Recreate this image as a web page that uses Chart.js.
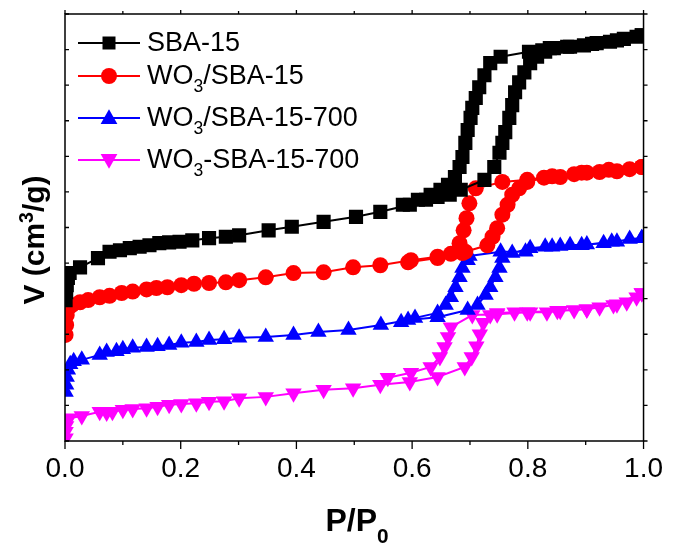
<!DOCTYPE html>
<html>
<head>
<meta charset="utf-8">
<script src="https://cdn.jsdelivr.net/npm/chart.js@4.4.1/dist/chart.umd.min.js"></script>
<style>
  html, body { margin: 0; padding: 0; background: #fff; }
  #wrap { width: 674px; height: 545px; }
</style>
</head>
<body>
<div id="wrap"><canvas id="isoChart" width="674" height="545"></canvas></div>
<script>
// N2 isotherms, P/P0 vs adsorbed volume (stacked, arbitrary offset)

const xTicks = [0.0, 0.2, 0.4, 0.6, 0.8, 1.0];

// SBA-15
const sbaAdsP = [0.001,0.002,0.003,0.005,0.008,0.026,0.057,0.077,0.095,0.112,0.129,0.146,0.163,0.180,0.198,0.220,0.249,0.278,0.301,0.352,0.392,0.447,0.503,0.545,0.596,0.624,0.644,0.665,0.684,0.725,0.742,0.751,0.756,0.761,0.768,0.773,0.778,0.785,0.794,0.804,0.816,0.830,0.845,0.873,0.897,0.919,0.942,0.966,0.988,0.997];
const sbaAdsV = [198,209,219,229,236,244,257,266,268,271,273,275,278,279,280,282,285,287,289,296,301,308,315,322,332,339,343,346,353,367,385,405,419,434,454,472,490,504,518,531,540,547,552,554,556,559,561,565,568,570];
const sbaDesP = [0.997,0.954,0.911,0.868,0.838,0.825,0.802,0.753,0.735,0.725,0.716,0.710,0.704,0.701,0.696,0.692,0.687,0.682,0.674,0.662,0.649,0.632,0.610,0.584];
const sbaDesV = [570,563,558,554,552,549,547,540,531,514,497,482,468,454,437,419,399,385,371,360,353,346,339,332];

// WO3/SBA-15
const wsAdsP = [0.001,0.002,0.003,0.006,0.012,0.026,0.040,0.060,0.077,0.098,0.117,0.141,0.158,0.177,0.201,0.223,0.249,0.278,0.301,0.347,0.395,0.447,0.498,0.545,0.598,0.644,0.667,0.692,0.730,0.739,0.747,0.756,0.765,0.773,0.785,0.799,0.828,0.856,0.880,0.902,0.924,0.954,0.976,0.997];
const wsAdsV = [149,163,177,187,191,195,198,202,204,208,210,213,215,216,219,221,222,223,226,230,236,237,244,247,254,259,263,266,275,287,299,318,332,346,355,364,370,371,375,377,378,379,382,385];
const wsDesP = [0.997,0.940,0.893,0.842,0.799,0.756,0.710,0.699,0.694,0.689,0.682,0.687,0.644,0.593];
const wsDesV = [385,381,377,372,367,364,355,334,313,296,278,264,257,251];

// WO3/SBA-15-700
const ws7AdsP = [0.001,0.002,0.003,0.005,0.009,0.015,0.029,0.060,0.072,0.089,0.100,0.117,0.141,0.160,0.180,0.201,0.227,0.249,0.275,0.301,0.347,0.395,0.438,0.490,0.546,0.593,0.644,0.696,0.713,0.727,0.735,0.744,0.751,0.756,0.773,0.804,0.830,0.856,0.873,0.902,0.931,0.954,0.976,0.997];
const ws7AdsV = [69,79,90,100,108,112,114,121,125,126,129,131,132,133,135,138,139,142,143,145,146,149,153,156,163,170,174,184,191,205,216,230,243,257,264,271,273,274,275,276,278,280,284,285];
const ws7DesP = [0.997,0.945,0.893,0.842,0.796,0.753,0.699,0.696,0.687,0.682,0.675,0.667,0.658,0.644,0.605,0.581];
const ws7DesV = [285,280,275,273,266,266,260,254,243,230,216,202,191,180,173,167];

// WO3-SBA-15-700
const wd7AdsP = [0.001,0.001,0.002,0.003,0.007,0.029,0.060,0.072,0.082,0.100,0.117,0.141,0.160,0.180,0.201,0.227,0.249,0.275,0.301,0.347,0.395,0.447,0.498,0.545,0.596,0.644,0.691,0.703,0.711,0.717,0.723,0.735,0.747,0.777,0.804,0.833,0.856,0.880,0.902,0.924,0.948,0.971,0.988,0.997];
const wd7AdsV = [4,13,21,28,32,35,41,40,41,44,45,46,48,51,52,53,55,56,60,62,67,72,74,79,83,90,104,118,133,150,166,177,180,181,181,181,183,184,185,188,191,195,202,208];
const wd7DesP = [0.997,0.954,0.902,0.851,0.799,0.747,0.704,0.667,0.662,0.656,0.648,0.632,0.598,0.558];
const wd7DesV = [208,192,185,183,181,178,177,160,146,132,118,104,96,89];

const seriesNames = ['SBA-15', 'WO3/SBA-15', 'WO3/SBA-15-700', 'WO3-SBA-15-700'];
const seriesColors = ['#000000', '#ff0000', '#0000ff', '#ff00ff'];

function toPoints(aP, aV, dP, dV) {
    const pts = [];
    aP.forEach((p, i) => pts.push({ x: p, y: aV[i] }));
    dP.forEach((p, i) => pts.push({ x: p, y: dV[i] }));
    return pts;
}

const FONT = "'Liberation Sans', Arial, sans-serif";

// markers for the hand-drawn legend
function drawMarker(ctx, kind, x, y, r, color) {
    ctx.save();
    ctx.fillStyle = color;
    ctx.beginPath();
    if (kind === 'rect') {
        ctx.rect(x - r, y - r, 2 * r, 2 * r);
    } else if (kind === 'circle') {
        ctx.arc(x, y, r, 0, Math.PI * 2);
    } else if (kind === 'up') {
        ctx.moveTo(x, y - r * 1.1);
        ctx.lineTo(x + r * 1.05, y + r * 0.75);
        ctx.lineTo(x - r * 1.05, y + r * 0.75);
        ctx.closePath();
    } else {
        ctx.moveTo(x, y + r * 1.1);
        ctx.lineTo(x + r * 1.05, y - r * 0.75);
        ctx.lineTo(x - r * 1.05, y - r * 0.75);
        ctx.closePath();
    }
    ctx.fill();
    ctx.restore();
}

// text pieces, some of them as sub/superscript
function drawRich(ctx, parts, x, y, size, bold) {
    let cx = x;
    parts.forEach(part => {
        const s = part.script ? size * 0.65 : size;
        ctx.font = (bold ? 'bold ' : '') + s + 'px ' + FONT;
        let dy = 0;
        if (part.script === 'sub') dy = size * 0.38;
        if (part.script === 'sup') dy = -size * 0.38;
        ctx.fillText(part.t, cx, y + dy);
        cx += ctx.measureText(part.t).width;
    });
    return cx - x;
}
function richWidth(ctx, parts, size, bold) {
    let w = 0;
    parts.forEach(part => {
        const s = part.script ? size * 0.65 : size;
        ctx.font = (bold ? 'bold ' : '') + s + 'px ' + FONT;
        w += ctx.measureText(part.t).width;
    });
    return w;
}

const legendParts = [
    [{ t: 'SBA-15' }],
    [{ t: 'WO' }, { t: '3', script: 'sub' }, { t: '/SBA-15' }],
    [{ t: 'WO' }, { t: '3', script: 'sub' }, { t: '/SBA-15-700' }],
    [{ t: 'WO' }, { t: '3', script: 'sub' }, { t: '-SBA-15-700' }]
];
const legendMarkers = ['rect', 'circle', 'up', 'down'];
const legendRows = [43, 76, 118, 160];

const framePlugin = {
    id: 'frame',
    afterDraw(chart) {
        const ctx = chart.ctx;
        const a = chart.chartArea;
        const xs = chart.scales.x;
        const ys = chart.scales.y;
        ctx.save();
        ctx.strokeStyle = '#000';
        ctx.lineWidth = 1.5;
        ctx.strokeRect(a.left, a.top, a.right - a.left, a.bottom - a.top);

        // x ticks: major every 0.2, minor every 0.1
        ctx.lineWidth = 1.3;
        for (let i = 0; i <= 10; i++) {
            const px = xs.getPixelForValue(i / 10);
            const len = i % 2 === 0 ? 8 : 4;
            ctx.beginPath();
            ctx.moveTo(px, a.bottom);
            ctx.lineTo(px, a.bottom + len);
            ctx.moveTo(px, a.top);
            ctx.lineTo(px, a.top - (i % 2 === 0 ? 4 : 3));
            ctx.stroke();
        }
        // y ticks every 50
        for (let v = 0; v <= 600; v += 50) {
            const py = ys.getPixelForValue(v);
            ctx.beginPath();
            ctx.moveTo(a.left, py);
            ctx.lineTo(a.left + 4, py);
            ctx.moveTo(a.right, py);
            ctx.lineTo(a.right + 4, py);
            ctx.stroke();
        }

        // legend
        ctx.textBaseline = 'middle';
        ctx.textAlign = 'left';
        legendRows.forEach((ly, i) => {
            ctx.strokeStyle = seriesColors[i];
            ctx.lineWidth = 2;
            ctx.beginPath();
            ctx.moveTo(78, ly);
            ctx.lineTo(140, ly);
            ctx.stroke();
            const r = legendMarkers[i] === 'rect' ? 6.5 : 8;
            drawMarker(ctx, legendMarkers[i], 109, ly, r, seriesColors[i]);
            ctx.fillStyle = '#000';
            drawRich(ctx, legendParts[i], 147, ly + 1, 27, false);
        });

        // x title
        const xt = [{ t: 'P/P' }, { t: '0', script: 'sub' }];
        const xw = richWidth(ctx, xt, 32, true);
        ctx.fillStyle = '#000';
        ctx.textBaseline = 'alphabetic';
        drawRich(ctx, xt, 357 - xw / 2, 531, 32, true);

        // y title
        const yt = [{ t: 'V (cm' }, { t: '3', script: 'sup' }, { t: '/g)' }];
        const yw = richWidth(ctx, yt, 30, true);
        ctx.translate(44, 240);
        ctx.rotate(-Math.PI / 2);
        drawRich(ctx, yt, -yw / 2, 0, 30, true);
        ctx.restore();
    }
};

const datasets = [
    toPoints(sbaAdsP, sbaAdsV, sbaDesP, sbaDesV),
    toPoints(wsAdsP, wsAdsV, wsDesP, wsDesV),
    toPoints(ws7AdsP, ws7AdsV, ws7DesP, ws7DesV),
    toPoints(wd7AdsP, wd7AdsV, wd7DesP, wd7DesV)
].map((pts, i) => ({
    label: seriesNames[i],
    data: pts,
    showLine: true,
    borderColor: seriesColors[i],
    backgroundColor: seriesColors[i],
    borderWidth: 2,
    pointStyle: ['rect', 'circle', 'triangle', 'triangle'][i],
    rotation: i === 3 ? 180 : 0,
    pointRadius: [10, 8, 9.5, 9.5][i],
    pointBorderWidth: 0,
    tension: 0
}));

const isoCtx = document.getElementById('isoChart').getContext('2d');
const isoChart = new Chart(isoCtx, {
    type: 'scatter',
    data: { datasets: datasets },
    options: {
        responsive: false,
        animation: false,
        layout: { padding: { top: 14, right: 27, left: 0, bottom: 0 } },
        plugins: {
            legend: { display: false },
            tooltip: { enabled: false }
        },
        scales: {
            x: {
                type: 'linear',
                min: 0,
                max: 1,
                afterBuildTicks: (scale) => {
                    scale.ticks = xTicks.map(v => ({ value: v }));
                },
                afterFit: (scale) => { scale.height = 104; },
                grid: { display: false, drawTicks: false },
                border: { display: false },
                ticks: {
                    padding: 11,
                    color: '#000',
                    font: { family: FONT, size: 28 },
                    callback: (v) => Number(v).toFixed(1)
                }
            },
            y: {
                type: 'linear',
                min: 0,
                max: 600,
                afterFit: (scale) => { scale.width = 65; },
                grid: { display: false, drawTicks: false },
                border: { display: false },
                ticks: { display: false }
            }
        }
    },
    plugins: [framePlugin]
});
</script>
</body>
</html>
